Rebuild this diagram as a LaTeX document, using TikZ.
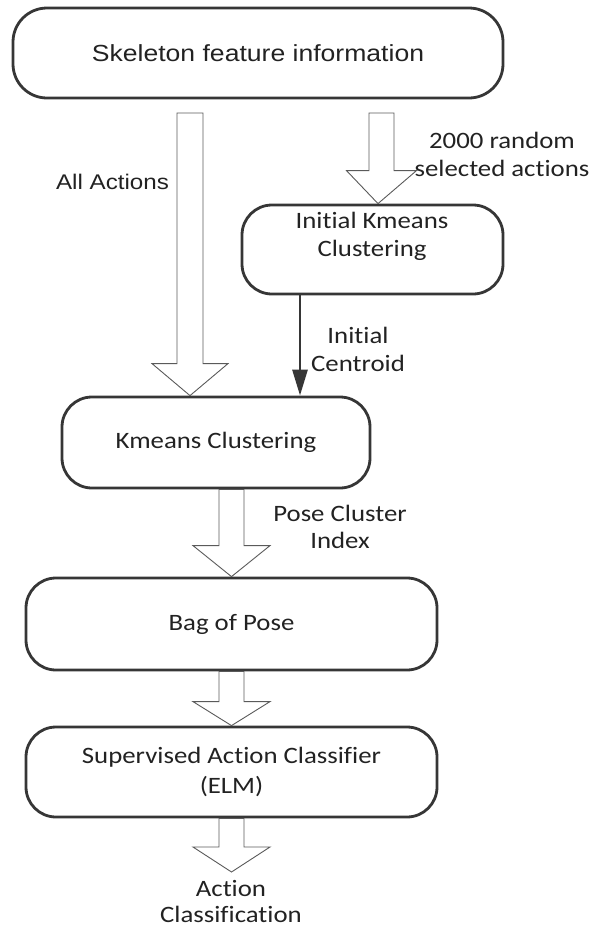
\documentclass[tikz,border=0pt]{standalone}
\usepackage{fontspec}
\setmainfont{Carlito}[FakeStretch=1.14,Ligatures=NoCommon]
\newfontfamily\arialf{Liberation Sans}[FakeStretch=1.14]
\usetikzlibrary{arrows.meta,calc}
\definecolor{boxc}{HTML}{363636}
\definecolor{txtc}{HTML}{222222}
\definecolor{arrc}{HTML}{5A5A5A}
\newcommand\blockarrow[5]{%
  \draw[hollow] let \p1=(#1),\p2=(#2) in
   (\x1-#4,\y1) -- (\x1-#4,\y2+#3) -- (\x1-#5,\y2+#3) -- (\x2,\y2)
   -- (\x1+#5,\y2+#3) -- (\x1+#4,\y2+#3) -- (\x1+#4,\y1) -- cycle;}
\begin{document}
\begin{tikzpicture}[x=1pt,y=-1pt,
  stage/.style={draw=boxc,line width=2.8pt,rounded corners=30pt,inner sep=0pt,
    text=txtc,align=center,font=\fontsize{23.5}{30}\selectfont},
  lbl/.style={text=txtc,font=\fontsize{23.5}{28}\selectfont,align=center,inner sep=0pt},
  hollow/.style={draw=arrc,line width=0.9pt,line join=miter},
  solidarr/.style={draw=boxc,line width=2.8pt,-{Triangle[length=26pt,width=15pt]}},
]
\useasboundingbox (0,0) rectangle (595,930);

% boxes
\node[stage,rounded corners=34pt,minimum width=490pt,minimum height=90pt,
  font=\arialf\fontsize{23.3}{28}\selectfont] (skel) at (258,53) {Skeleton feature information};
\node[stage,minimum width=261pt,minimum height=89pt] (init) at (372.5,249.5) {};
\node[lbl] (initT) at (372,236) {Initial Kmeans\\Clustering};
\node[stage,minimum width=308pt,minimum height=91pt] (kmeans) at (216,442.5) {Kmeans Clustering};
\node[stage,minimum width=411pt,minimum height=92pt] (bag) at (231.5,624) {Bag of Pose};
\node[stage,minimum width=411pt,minimum height=90pt] (sup) at (231.5,772)
  {Supervised Action Classifier\\(ELM)};

% free ends
\coordinate (a1s) at (190,113);
\coordinate (a2s) at (381.5,113);
\coordinate (outtip) at (231.5,872);

% connectors
\blockarrow{a1s}{a1s |- kmeans.north}{32pt}{13pt}{38pt}
\blockarrow{a2s}{378,0 |- init.north}{33pt}{12.5pt}{35pt}
\draw[solidarr] (init.south -| 300,0) -- (kmeans.north -| 300,0);
\blockarrow{bag.north |- kmeans.south}{bag.north}{31pt}{12.5pt}{38.5pt}
\blockarrow{bag.south}{sup.north}{24pt}{12.5pt}{38.5pt}
\blockarrow{sup.south}{outtip}{25pt}{12.5pt}{38.5pt}

% labels
\node[lbl,font=\arialf\fontsize{21.2}{26}\selectfont] (lAll) at (112.5,182) {All Actions};
\node[lbl] (l2000) at (502,154) {2000 random\\selected actions};
\node[lbl] (lcent) at (358,349) {Initial\\Centroid};
\node[lbl,font=\fontsize{23.5}{27}\selectfont] (lpose) at (340,526.5) {Pose Cluster\\Index};
\node[lbl,font=\fontsize{23.5}{26}\selectfont] (lout) at (231,901) {Action\\Classification};
\end{tikzpicture}
\end{document}
